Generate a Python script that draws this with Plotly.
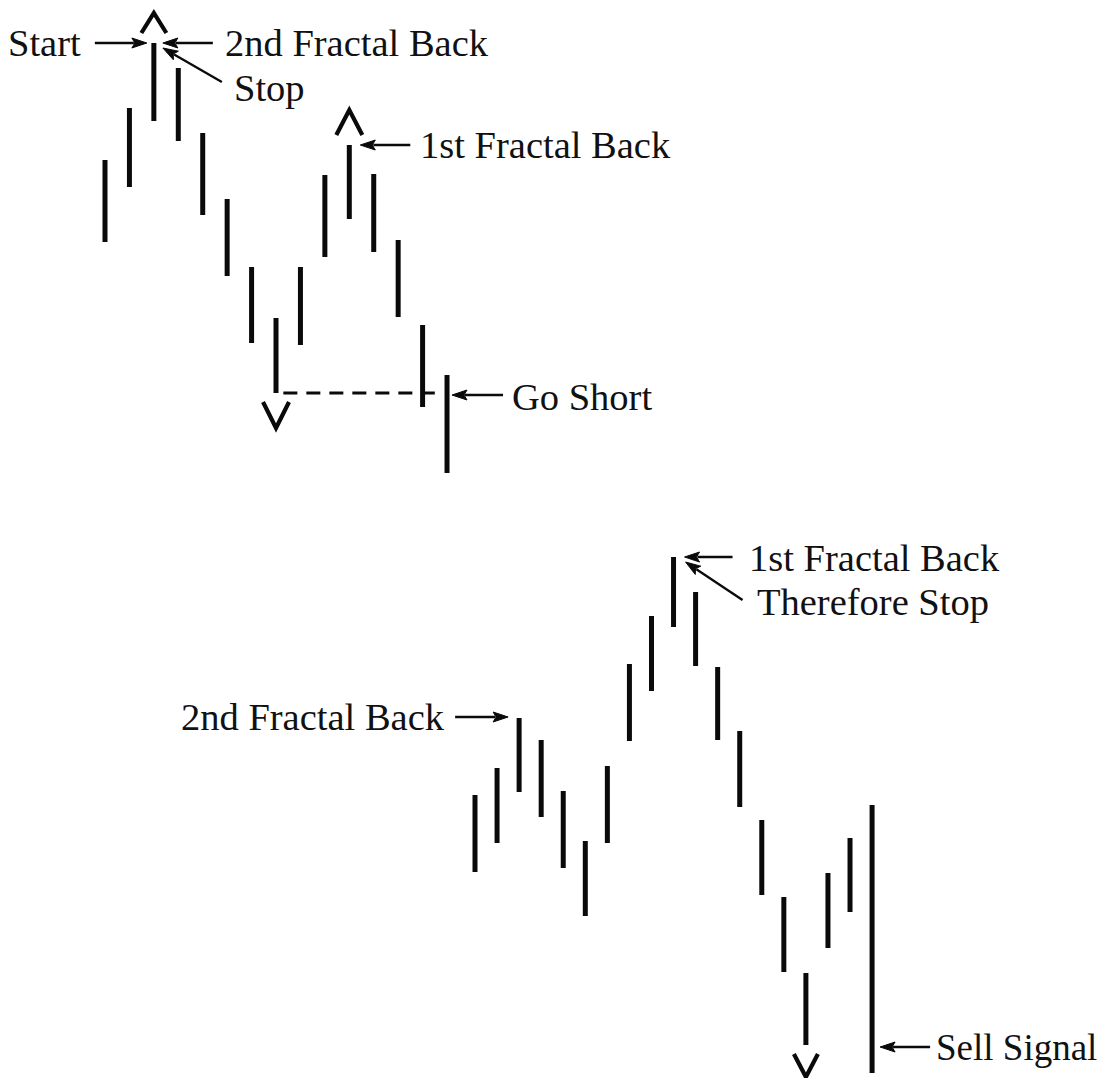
import math
import plotly.graph_objects as go

# ---------------- data ----------------
# Upper example: 15 price bars (high / low)
top_idx = list(range(15))
top_high = [91.8, 97.0, 103.5, 101.0, 94.5, 87.9, 81.1, 76.0, 81.1, 90.3, 93.3, 90.4, 83.8, 75.3, 70.3]
top_low = [83.6, 89.1, 95.7, 93.7, 86.3, 80.2, 73.5, 68.5, 73.3, 82.1, 85.9, 82.6, 76.1, 67.1, 60.5]

# Lower example: 19 price bars (high / low)
bot_idx = list(range(19))
bot_high = [28.3, 31.0, 36.0, 33.8, 28.7, 23.7, 31.2, 41.4, 46.2, 52.1, 48.6, 41.1, 34.7, 25.8, 18.1, 10.5, 20.5, 24.0, 27.3]
bot_low = [20.6, 23.5, 28.6, 26.1, 21.0, 16.2, 23.5, 33.7, 38.7, 45.1, 41.2, 33.8, 27.1, 18.3, 10.6, 3.3, 13.0, 16.6, 0.5]

# key bars
top_up_fractals = [2, 10]      # "^" marks
top_down_fractal = 7           # "v" mark, breakout level
top_entry = 14                 # Go Short bar
bot_fractal2 = 2
bot_fractal1 = 9
bot_down_fractal = 15
bot_signal = 18

INK = "#0a0a0a"
FONT = dict(family="Liberation Serif, Times New Roman, serif", size=38.5, color="#111111")


def bar_xy(idx, hi, lo):
    xs, ys = [], []
    for i, h, l in zip(idx, hi, lo):
        xs += [i, i, None]
        ys += [h, l, None]
    return xs, ys


fig = go.Figure()

xs, ys = bar_xy(top_idx, top_high, top_low)
fig.add_trace(go.Scatter(x=xs, y=ys, mode="lines", xaxis="x", yaxis="y",
                         line=dict(color=INK, width=5), hoverinfo="skip", showlegend=False))
xs, ys = bar_xy(bot_idx, bot_high, bot_low)
fig.add_trace(go.Scatter(x=xs, y=ys, mode="lines", xaxis="x2", yaxis="y",
                         line=dict(color=INK, width=5), hoverinfo="skip", showlegend=False))

# dashed breakout line from the down fractal low to the entry bar
lvl = top_low[top_down_fractal]
fig.add_trace(go.Scatter(x=[top_down_fractal + 0.3, top_entry - 0.5], y=[lvl, lvl],
                         mode="lines", xaxis="x", yaxis="y",
                         line=dict(color=INK, width=2.8, dash="14px,9px"),
                         hoverinfo="skip", showlegend=False))

shapes = []


def pix_shape(xref, xa, ya, path, **kw):
    d = dict(type="path", xref=xref, yref="y", xsizemode="pixel", ysizemode="pixel",
             xanchor=xa, yanchor=ya, path=path, layer="above")
    d.update(kw)
    return d


def chevron(xref, xa, ya, apex_dy, leg_dy, half):
    p = f"M{-half},{leg_dy} L0,{apex_dy} L{half},{leg_dy}"
    shapes.append(pix_shape(xref, xa, ya, p, line=dict(color=INK, width=4.2), fillcolor="rgba(0,0,0,0)"))


def arrow(xref, xa, ya, tip, tail, head_len=15, head_half=5):
    tx, ty = tip
    sx, sy = tail
    dx, dy = tx - sx, ty - sy
    n = math.hypot(dx, dy)
    ux, uy = dx / n, dy / n
    px, py = -uy, ux
    bx, by = tx - ux * head_len, ty - uy * head_len
    # shaft
    shapes.append(pix_shape(xref, xa, ya, f"M{sx},{sy} L{bx + ux*2:.2f},{by + uy*2:.2f}",
                            line=dict(color=INK, width=2.3)))
    # filled head (slightly notched)
    nx, ny = tx - ux * head_len * 0.8, ty - uy * head_len * 0.8
    p = (f"M{tx},{ty} L{bx + px*head_half:.2f},{by + py*head_half:.2f} "
         f"L{nx:.2f},{ny:.2f} L{bx - px*head_half:.2f},{by - py*head_half:.2f} Z")
    shapes.append(pix_shape(xref, xa, ya, p, line=dict(color=INK, width=1), fillcolor=INK))


# ---- upper example ----
i = top_up_fractals[0]
chevron("x", i, top_high[i], 30, 10, 12.5)
i = top_up_fractals[1]
chevron("x", i, top_high[i], 35, 10, 13)
chevron("x", top_down_fractal, top_low[top_down_fractal], -35, -9, 13)

i = top_up_fractals[0]
arrow("x", i, top_high[i], (-7, 0), (-59, 0))
arrow("x", i, top_high[i], (9, 0), (59, 0))
arrow("x", i, top_high[i], (9, -5), (68, -39))
i = top_up_fractals[1]
arrow("x", i, top_high[i], (11, 0), (61, 0))
arrow("x", top_entry, lvl, (5, -2), (56, -2))

# ---- lower example ----
chevron("x2", bot_down_fractal, bot_low[bot_down_fractal], -32, -9, 12)
arrow("x2", bot_fractal2, bot_high[bot_fractal2], (-11, 1), (-64, 1))
arrow("x2", bot_fractal1, bot_high[bot_fractal1], (11, 0), (59, 0))
arrow("x2", bot_fractal1, bot_high[bot_fractal1], (12, -5), (69, -43))
arrow("x2", bot_signal, bot_low[bot_signal], (8, 26), (58, 26))

annotations = []


def label(xref, xa, ya, text, xanchor, xshift, yshift, size=None):
    f = dict(FONT)
    if size:
        f["size"] = size
    annotations.append(dict(xref=xref, yref="y", x=xa, y=ya, text=text, showarrow=False,
                            xanchor=xanchor, yanchor="middle", xshift=xshift, yshift=yshift,
                            font=f))


i = top_up_fractals[0]
label("x", i, top_high[i], "Start", "right", -71, 0)
label("x", i, top_high[i], "2nd Fractal Back", "left", 69, 0)
label("x", i, top_high[i], "Stop", "left", 78, -45)
i = top_up_fractals[1]
label("x", i, top_high[i], "1st Fractal Back", "left", 69, 0)
label("x", top_entry, lvl, "Go Short", "left", 63, -4)

label("x2", bot_fractal2, bot_high[bot_fractal2], "2nd Fractal Back", "right", -72, 1)
label("x2", bot_fractal1, bot_high[bot_fractal1], "1st Fractal Back", "left", 73, -1)
label("x2", bot_fractal1, bot_high[bot_fractal1], "Therefore Stop", "left", 81, -45)
label("x2", bot_signal, bot_low[bot_signal], "Sell Signal", "left", 62, 26, size=37)

# the page adds an 8px body margin, so the figure is 8px smaller each way
W, H = 1099, 1070
hidden = dict(visible=False, showgrid=False, zeroline=False, fixedrange=True)
fig.update_layout(
    width=W, height=H,
    margin=dict(l=0, r=0, t=0, b=0),
    paper_bgcolor="white", plot_bgcolor="white",
    xaxis=dict(range=[-97 / 24.43, (W - 97) / 24.43], domain=[0, 1], anchor="y", **hidden),
    xaxis2=dict(range=[-467 / 22.06, (W - 467) / 22.06], domain=[0, 1], anchor="y",
                overlaying="x", **hidden),
    yaxis=dict(range=[0, 107.0], domain=[0, 1], **hidden),
    shapes=shapes,
    annotations=annotations,
    showlegend=False,
)

fig.write_html("out.html")
